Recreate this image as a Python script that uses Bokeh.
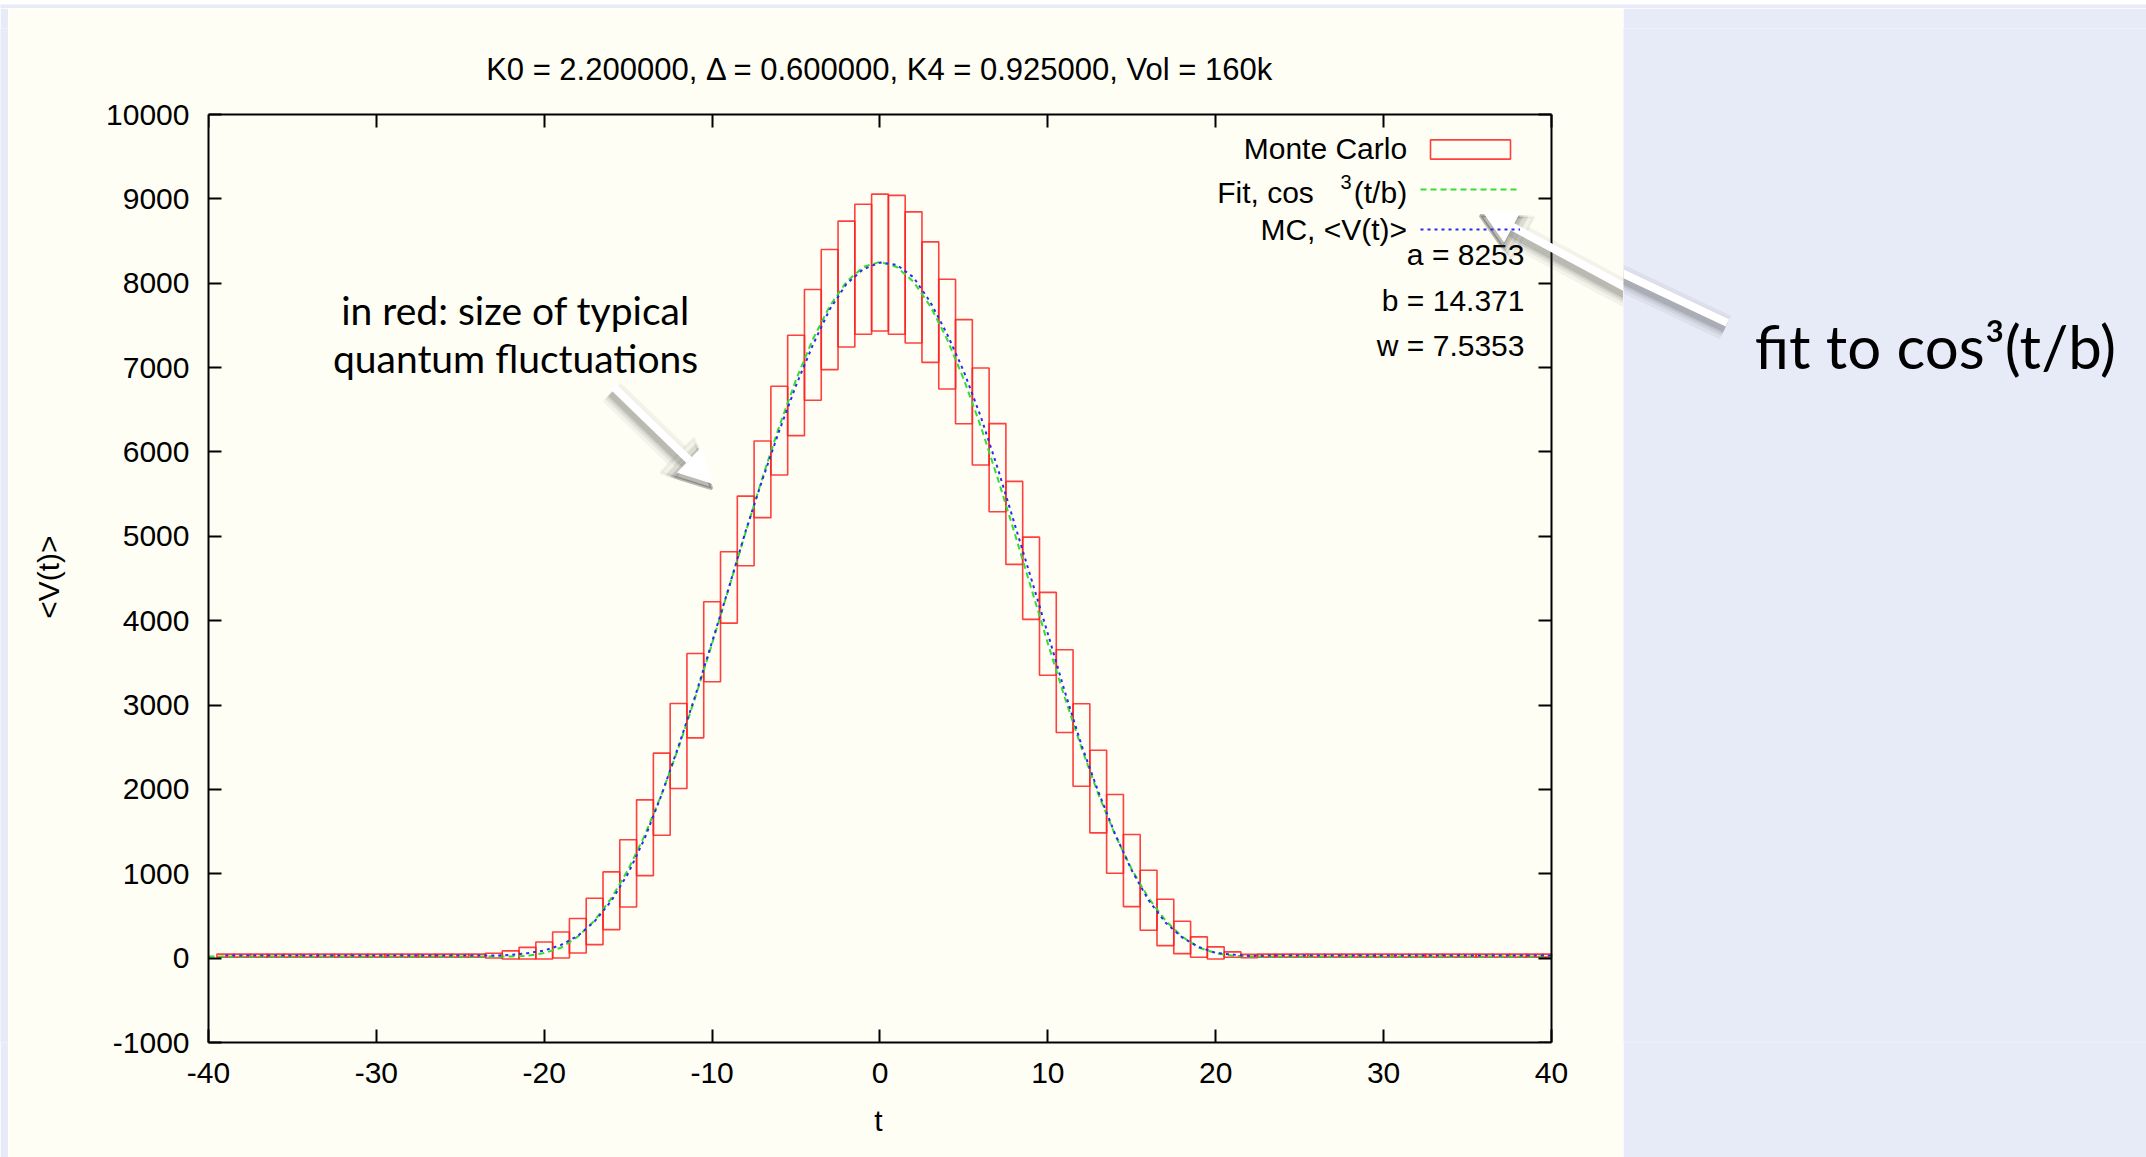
import numpy as np
from bokeh.plotting import figure
from bokeh.layouts import row, column
from bokeh.models import (Range1d, LinearAxis, FixedTicker, Label, Arrow, NormalHead,
                          Legend, LegendItem, ColumnDataSource)
from bokeh.embed import file_html
from bokeh.resources import INLINE

# ---------------- data ----------------
t_slices = list(range(-39, 41))
v_mean = [30, 30, 30, 30, 30, 30, 30, 30, 30, 30, 30, 30, 30, 30, 30, 30,
          30, 38, 59, 91, 156, 265, 435, 680, 1005, 1427, 1943, 2514, 3111, 3750,
          4394, 5064, 5675, 6252, 6788, 7269, 7688, 7990, 8166, 8245, 8218, 8069,
          7776, 7397, 6952, 6420, 5814, 5159, 4503, 3845, 3165, 2527, 1975, 1473,
          1038, 686, 423, 245, 131, 62, 42, 25,
          30, 30, 30, 30, 30, 30, 30, 30, 30, 30, 30, 30, 30, 30, 30, 30, 30, 30]
v_err = [18, 18, 18, 18, 18, 18, 18, 18, 18, 18, 18, 18, 18, 18, 18, 18,
         28, 48, 69, 101, 154, 204, 275, 342, 398, 449, 487, 504, 500, 474,
         423, 413, 454, 526, 595, 657, 712, 746, 771, 811, 823, 777,
         714, 651, 617, 575, 522, 492, 488, 491, 491, 489, 490, 467,
         427, 356, 275, 192, 121, 72, 32, 20,
         18, 18, 18, 18, 18, 18, 18, 18, 18, 18, 18, 18, 18, 18, 18, 18, 18, 18]

fit_t = [-40, -23, -22, -21, -20, -19, -18, -17, -16, -15, -14, -13, -12, -11, -10,
         -9, -8, -7, -6, -5, -4, -3, -2, -1, 0, 1, 2, 3, 4, 5, 6, 7, 8, 9, 10,
         11, 12, 13, 14, 15, 16, 17, 18, 19, 20, 21, 22, 23, 40]
fit_v = [20, 20, 20, 28, 60, 124, 254, 447, 711, 1050, 1463, 1947, 2494, 3093, 3730,
         4389, 5050, 5695, 6304, 6857, 7336, 7727, 8016, 8193, 8253, 8193, 8016, 7727,
         7336, 6857, 6304, 5695, 5050, 4389, 3730, 3093, 2494, 1947, 1463, 1050, 711,
         447, 254, 124, 60, 28, 20, 20, 20]

x_ticks = [-40, -30, -20, -10, 0, 10, 20, 30, 40]
x_tick_labels = ["-40", "-30", "-20", "-10", "0", "10", "20", "30", "40"]
y_ticks = [-1000, 0, 1000, 2000, 3000, 4000, 5000, 6000, 7000, 8000, 9000, 10000]
y_tick_labels = ["-1000", "0", "1000", "2000", "3000", "4000", "5000", "6000",
                 "7000", "8000", "9000", "10000"]

title_text = "K0 = 2.200000, \u0394 = 0.600000, K4 = 0.925000, Vol = 160k"
x_label = "t"
y_label = "<V(t)>"
legend_labels = ["Monte Carlo", "Fit,  cos", "3", "(t/b)", "MC, <V(t)>"]
fit_params = ["a = 8253", "b = 14.371", "w = 7.5353"]
note_lines = ["in red: size of typical", "quantum fluctuations"]
side_note = "fit to cos\u00b3(t/b)"

# ---------------- styling ----------------
CREAM = "#FEFEF4"
LAVENDER = "#E7EAF7"
FONT = "Liberation Sans"
NOTE_FONT = "Lato"
FS = "30px"
NBSP = "\u00a0"

t_arr = np.array(t_slices, dtype=float)
m_arr = np.array(v_mean, dtype=float)
e_arr = np.array(v_err, dtype=float)
x_lo, x_hi = x_ticks[0], x_ticks[-1]
src = ColumnDataSource(dict(t=t_arr, mean=m_arr, lo=m_arr - e_arr, hi=m_arr + e_arr,
                            left=np.maximum(t_arr - 0.5, x_lo),
                            right=np.minimum(t_arr + 0.5, x_hi)))

# main panel: frame spans from the y axis to the right edge of the cream panel
p = figure(width=1615, height=1149, x_range=Range1d(-40, 44.289),
           y_range=Range1d(-1000, 11019.4),
           output_backend="svg", toolbar_location=None, x_axis_type=None, y_axis_type=None,
           min_border_left=200, min_border_right=0, min_border_top=20, min_border_bottom=115)
p.background_fill_color = CREAM
p.border_fill_color = CREAM
p.outline_line_color = None


def make_axis(ticks, labels, bounds, show):
    ax = LinearAxis(ticker=FixedTicker(ticks=ticks), bounds=bounds)
    ax.major_tick_line_width = 2
    ax.minor_tick_line_color = None
    ax.axis_line_width = 2
    ax.axis_line_color = "black"
    ax.major_tick_line_color = "black"
    if show:
        ax.major_label_overrides = {tk: lb for tk, lb in zip(ticks, labels)}
        ax.major_label_text_font = FONT
        ax.major_label_text_font_size = FS
        ax.major_label_text_color = "black"
    else:
        ax.major_label_overrides = {tk: "" for tk in ticks}
        ax.major_label_text_font_size = "0px"
        ax.major_label_standoff = 0
    ax.axis_label_text_font = FONT
    ax.axis_label_text_font_size = FS
    ax.axis_label_text_font_style = "normal"
    ax.axis_label_text_color = "black"
    return ax


# the frame is wider/taller than the plot box, so the axis labels are padded
# with no-break spaces to centre them on the plot box
ax_l = make_axis(y_ticks, y_tick_labels, (-1000, 10000), True)
ax_l.axis_label = y_label + NBSP * 10
ax_l.major_tick_in = 13
ax_l.major_tick_out = 0
ax_l.major_label_standoff = 19
ax_l.axis_label_standoff = 38
p.add_layout(ax_l, "left")

ax_r = make_axis(y_ticks, y_tick_labels, (-1000, 10000), False)
ax_r.fixed_location = 40
ax_r.major_tick_in = 0
ax_r.major_tick_out = 13
p.add_layout(ax_r, "left")

ax_b = make_axis(x_ticks, x_tick_labels, (-40, 40), True)
ax_b.axis_label = x_label + NBSP * 9
ax_b.major_tick_in = 13
ax_b.major_tick_out = 0
ax_b.major_label_standoff = 20
ax_b.axis_label_standoff = 18
p.add_layout(ax_b, "below")

ax_t = make_axis(x_ticks, x_tick_labels, (-40, 40), False)
ax_t.fixed_location = 10000
ax_t.major_tick_in = 13
ax_t.major_tick_out = 0
p.add_layout(ax_t, "above")

# ---------------- glyphs ----------------
r_box = p.quad(left="left", right="right", bottom="lo", top="hi", source=src,
               fill_color=None, line_color="#FF1E1E", line_width=1.6, line_alpha=0.85)
r_fit = p.line(fit_t, fit_v, line_color="#35DC35", line_width=2, line_dash="6 4")
r_mc = p.line("t", "mean", source=src, line_color="#2B2BEE", line_width=2, line_dash="3 4")

legend = Legend(items=[LegendItem(label=" ", renderers=[r_box]),
                       LegendItem(label=" ", renderers=[r_fit]),
                       LegendItem(label=" ", renderers=[r_mc])],
                location=(1212, 801), glyph_width=100, glyph_height=24, spacing=16,
                padding=0, margin=0, label_standoff=0, label_width=0, label_height=20,
                label_text_font_size="1px", background_fill_alpha=0, border_line_alpha=0)
p.add_layout(legend)


# ---------------- texts ----------------
def put(fig, x, y, text, align, font=FONT, size=FS):
    fig.add_layout(Label(x=x, y=y, text=text, text_align=align, text_baseline="middle",
                         text_font=font, text_font_size=size, text_color="black"))


put(p, 0, 10528, title_text, "center", size="31px")
put(p, 31.40, 9600, legend_labels[0], "right")
put(p, 26.34, 9074, legend_labels[1], "right")
put(p, 28.09, 9203, legend_labels[2], "right", size="20px")
put(p, 31.40, 9074, legend_labels[3], "right")
put(p, 31.40, 8640, legend_labels[4], "right")
for txt, yv in zip(fit_params, [8344, 7790, 7257]):
    put(p, 38.39, yv, txt, "right")
for txt, yv in zip(note_lines, [7686, 7114]):
    put(p, -21.71, yv, txt, "center", font=NOTE_FONT, size="39px")

# slide area to the right of the chart (same data scale as the main panel)
side = figure(width=523, height=1149, x_range=Range1d(44.289, 75.443),
              y_range=Range1d(-2363.1, 11256.4), output_backend="svg", toolbar_location=None,
              x_axis_type=None, y_axis_type=None, min_border=0)
side.background_fill_color = LAVENDER
side.border_fill_color = LAVENDER
side.outline_line_color = None
put(side, 52.10, 6990, side_note, "left", font=NOTE_FONT, size="60px")


# ---------------- arrows with soft shadow ----------------
def add_arrow(fig, x0, y0, x1, y1):
    dx, dy = -0.12, -60
    for w, a, s in [(26, 0.05, 48), (19, 0.07, 42), (14, 0.10, 38), (10, 0.14, 35)]:
        fig.add_layout(Arrow(x_start=x0 + dx, y_start=y0 + dy, x_end=x1 + dx, y_end=y1 + dy,
                             line_color="#303030", line_alpha=a, line_width=w,
                             end=NormalHead(size=s, fill_color="#303030", fill_alpha=a,
                                            line_color="#303030", line_alpha=a, line_width=3)))
    fig.add_layout(Arrow(x_start=x0, y_start=y0, x_end=x1, y_end=y1,
                         line_color="white", line_width=8,
                         end=NormalHead(size=34, fill_color="white", line_color="white",
                                        line_width=1)))


for fig in (p, side):
    add_arrow(fig, 50.48, 7301, 35.87, 8862)
add_arrow(p, -15.86, 6768, -9.90, 5623)

# thin slide margins at the top and left
top_strip = figure(width=2146, height=8, x_range=Range1d(0, 1), y_range=Range1d(0, 1),
                   output_backend="svg", toolbar_location=None, x_axis_type=None,
                   y_axis_type=None, min_border=0)
left_strip = figure(width=8, height=1149, x_range=Range1d(0, 1), y_range=Range1d(0, 1),
                    output_backend="svg", toolbar_location=None, x_axis_type=None,
                    y_axis_type=None, min_border=0)
for f in (top_strip, left_strip):
    f.background_fill_color = LAVENDER
    f.border_fill_color = LAVENDER
    f.outline_line_color = None

layout = column(top_strip, row(left_strip, p, side))
open("out.html", "w").write(file_html(layout, INLINE))
